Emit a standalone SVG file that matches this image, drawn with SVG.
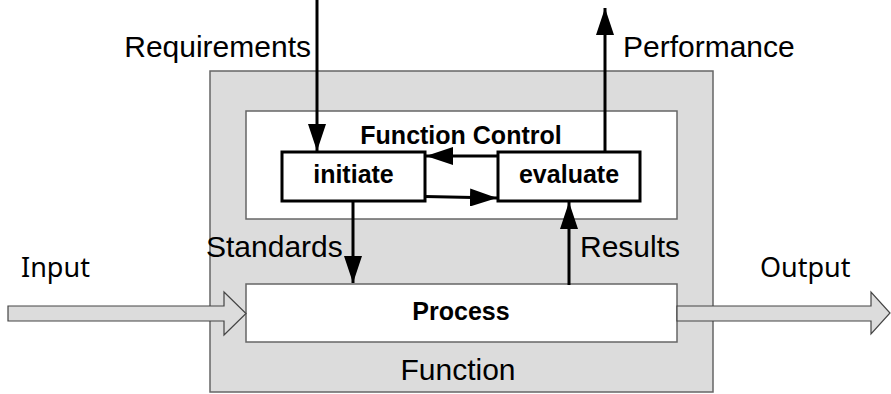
<svg xmlns="http://www.w3.org/2000/svg" width="891" height="394" viewBox="0 0 891 394">
<style>
.lbl{font-family:"Liberation Sans",Arial,sans-serif;font-size:30px;fill:#000}
.io{font-family:"Noto Sans","Open Sans",sans-serif;font-size:27px;fill:#000}
.b{font-family:"Liberation Sans",Arial,sans-serif;font-size:25px;font-weight:bold;fill:#000;text-anchor:middle}
.panel{fill:#fff;stroke:#666;stroke-width:1.5}
.sub{fill:#fff;stroke:#000;stroke-width:3}
.conn{stroke:#000;stroke-width:3;fill:none}
.blk{fill:#dcdcdc;stroke:#444;stroke-width:1.2}
</style>
<defs>
<marker id="ah" viewBox="0 0 27 18" refX="27" refY="9" markerWidth="27" markerHeight="18" markerUnits="userSpaceOnUse" orient="auto">
<path d="M0,0 L27,9 L0,18 Z" fill="#000"/>
</marker>
</defs>
<g id="function">
<rect x="210" y="71" width="503" height="321" fill="#dcdcdc" stroke="#666" stroke-width="1.5"/>
<text class="lbl" x="458" y="380" text-anchor="middle">Function</text>
</g>
<g id="function-control">
<rect class="panel" x="246" y="111" width="431" height="108"/>
<text class="b" x="461" y="144">Function Control</text>
</g>
<g id="process">
<rect class="panel" x="246" y="284" width="431" height="58"/>
<text class="b" x="461" y="320">Process</text>
</g>
<g id="initiate">
<rect class="sub" x="282" y="152" width="143" height="49"/>
<text class="b" x="353.5" y="183">initiate</text>
</g>
<g id="evaluate">
<rect class="sub" x="498" y="152" width="142" height="49"/>
<text class="b" x="569" y="183">evaluate</text>
</g>
<g id="connectors">
<path class="blk" d="M8,306 L224,306 L224,292 L246,313.5 L224,335 L224,321 L8,321 Z"/>
<path class="blk" d="M677,306 L871,306 L871,292 L890,313 L871,334 L871,321 L677,321 Z"/>
<line class="conn" x1="317" y1="0" x2="317" y2="151" marker-end="url(#ah)"/>
<line class="conn" x1="605" y1="152" x2="605" y2="8" marker-end="url(#ah)"/>
<line class="conn" x1="498" y1="156" x2="426" y2="156" marker-end="url(#ah)"/>
<line class="conn" x1="425" y1="196.5" x2="497" y2="198" marker-end="url(#ah)"/>
<line class="conn" x1="353" y1="201" x2="353" y2="283" marker-end="url(#ah)"/>
<line class="conn" x1="569" y1="285" x2="569" y2="202" marker-end="url(#ah)"/>
</g>
<g id="labels">
<text class="lbl" x="311" y="57" text-anchor="end">Requirements</text>
<text class="lbl" x="623" y="57">Performance</text>
<text class="lbl" x="206" y="257">Standards</text>
<text class="lbl" x="580" y="257">Results</text>
<text class="io" x="21" y="277">Input</text>
<text class="io" x="760" y="277">Output</text>
</g>
</svg>
